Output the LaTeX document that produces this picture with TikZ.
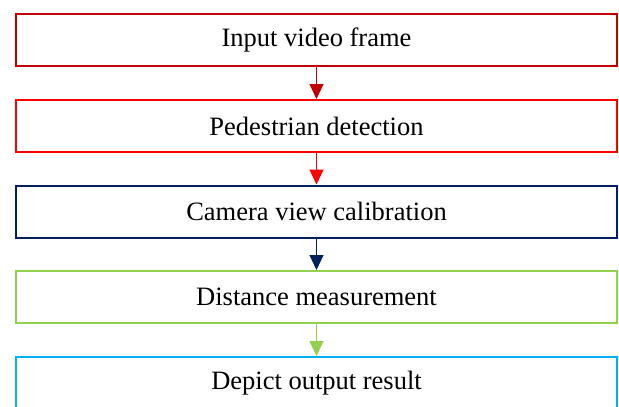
\documentclass[tikz,border=0pt]{standalone}
\usepackage{fontspec}
\setmainfont{Liberation Serif}
\usetikzlibrary{arrows.meta}
\definecolor{cdred}{HTML}{C00000}
\definecolor{cred}{HTML}{FF0000}
\definecolor{cnavy}{HTML}{002060}
\definecolor{cgreen}{HTML}{92D050}
\definecolor{cblue}{HTML}{00B0F0}
\tikzset{
  stepbox/.style={draw, line width=2pt, minimum width=601pt, minimum height=52pt, inner sep=0pt, font=\fontsize{26.5}{30}\selectfont, fill=white},
  flow/.style={line width=1pt, -{Triangle[width=14pt,length=15pt]}}
}
\begin{document}
\begin{tikzpicture}[x=1pt,y=-1pt]
\useasboundingbox (0,0) rectangle (619,407);
\clip (0,0) rectangle (619,407);
\node[stepbox, draw=cdred] (a) at (316.5,40) {Input video frame};
\node[stepbox, draw=cred] (b) at (316.5,126) {Pedestrian detection};
\node[stepbox, draw=cnavy] (c) at (316.5,211.5) {Camera view calibration};
\node[stepbox, draw=cgreen] (d) at (316.5,297) {Distance measurement};
\node[stepbox, draw=cblue] (e) at (316.5,383) {Depict output result};
\draw[flow, cdred] (a.south) -- (b.north);
\draw[flow, cred] (b.south) -- (c.north);
\draw[flow, cnavy] (c.south) -- (d.north);
\draw[flow, cgreen] (d.south) -- (e.north);
\end{tikzpicture}
\end{document}
